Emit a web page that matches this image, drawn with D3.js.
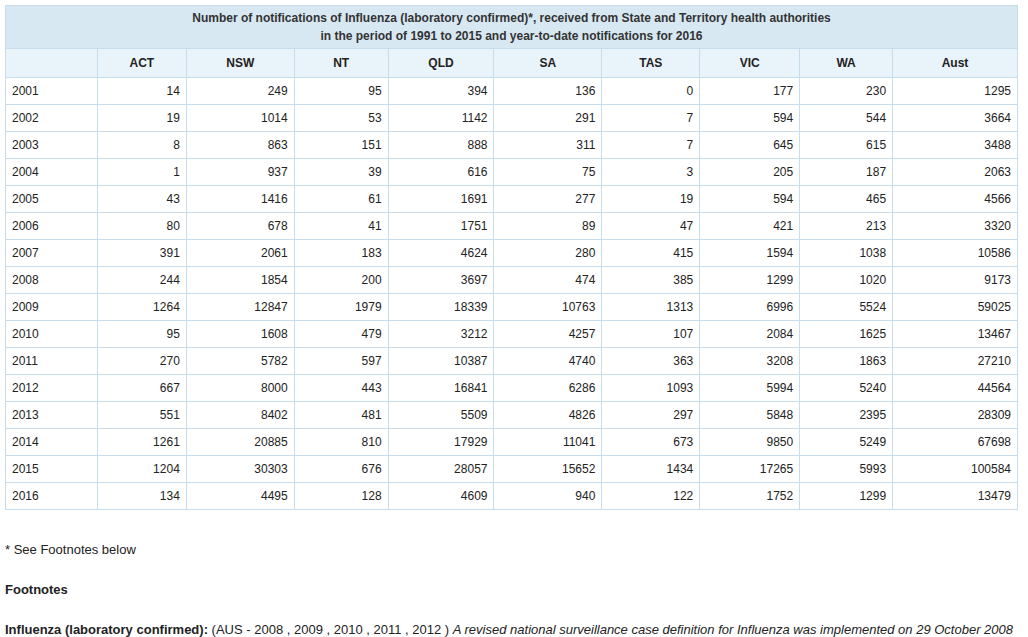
<!DOCTYPE html>
<html><head><meta charset="utf-8">
<script src="https://cdn.jsdelivr.net/npm/d3@7"></script>
<style>
body{margin:0;background:#fff;font-family:"Liberation Sans",Arial,sans-serif;color:#222;}
table{position:absolute;left:5px;top:5px;border-collapse:collapse;width:1013px;font-size:12px;}
td,th{border:1px solid #c7dcec;padding:0 6px;}
th.title{background:#d7e8f3;height:42px;font-weight:bold;color:#333;line-height:18px;}
th.head{background:#e9f3fa;height:28px;font-weight:bold;color:#222;}
td{height:26px;text-align:right;}
td.yr{text-align:left;}
.notes{position:absolute;left:5px;font-size:13px;}
</style></head><body>
<table id="t"></table>
<div class="notes" style="top:542px">* See Footnotes below</div>
<div class="notes" style="top:582px;font-weight:bold">Footnotes</div>
<div class="notes" style="top:622px"><b>Influenza (laboratory confirmed):</b> (AUS - 2008 , 2009 , 2010 , 2011 , 2012 ) <i>A revised national surveillance case definition for Influenza was implemented on 29 October 2008</i></div>
<script>
const columns = ["ACT", "NSW", "NT", "QLD", "SA", "TAS", "VIC", "WA", "Aust"];
const years = ["2001","2002","2003","2004","2005","2006","2007","2008","2009","2010","2011","2012","2013","2014","2015","2016"];
const ACT = [14,19,8,1,43,80,391,244,1264,95,270,667,551,1261,1204,134];
const NSW = [249,1014,863,937,1416,678,2061,1854,12847,1608,5782,8000,8402,20885,30303,4495];
const NT = [95,53,151,39,61,41,183,200,1979,479,597,443,481,810,676,128];
const QLD = [394,1142,888,616,1691,1751,4624,3697,18339,3212,10387,16841,5509,17929,28057,4609];
const SA = [136,291,311,75,277,89,280,474,10763,4257,4740,6286,4826,11041,15652,940];
const TAS = [0,7,7,3,19,47,415,385,1313,107,363,1093,297,673,1434,122];
const VIC = [177,594,645,205,594,421,1594,1299,6996,2084,3208,5994,5848,9850,17265,1752];
const WA = [230,544,615,187,465,213,1038,1020,5524,1625,1863,5240,2395,5249,5993,1299];
const Aust = [1295,3664,3488,2063,4566,3320,10586,9173,59025,13467,27210,44564,28309,67698,100584,13479];
const series = [ACT, NSW, NT, QLD, SA, TAS, VIC, WA, Aust];
const widths = [92, 89, 108, 94, 106, 108, 98, 100, 93, 125];

const table = d3.select("#t");
table.append("colgroup").selectAll("col").data(widths).enter().append("col").attr("width", d => d);

table.append("tr").append("th").attr("class", "title").attr("colspan", 10)
 .html("Number of notifications of Influenza (laboratory confirmed)*, received from State and Territory health authorities<br>in the period of 1991 to 2015 and year-to-date notifications for 2016");

const head = table.append("tr");
head.append("th").attr("class", "head");
head.selectAll("th.c").data(columns).enter().append("th").attr("class", "head c").text(d => d);

const rows = table.selectAll("tr.r").data(years).enter().append("tr").attr("class", "r");
rows.append("td").attr("class", "yr").text(d => d);
rows.selectAll("td.v")
 .data((y, i) => series.map(s => s[i]))
 .enter().append("td").attr("class", "v").text(d => d);
</script>
</body></html>
